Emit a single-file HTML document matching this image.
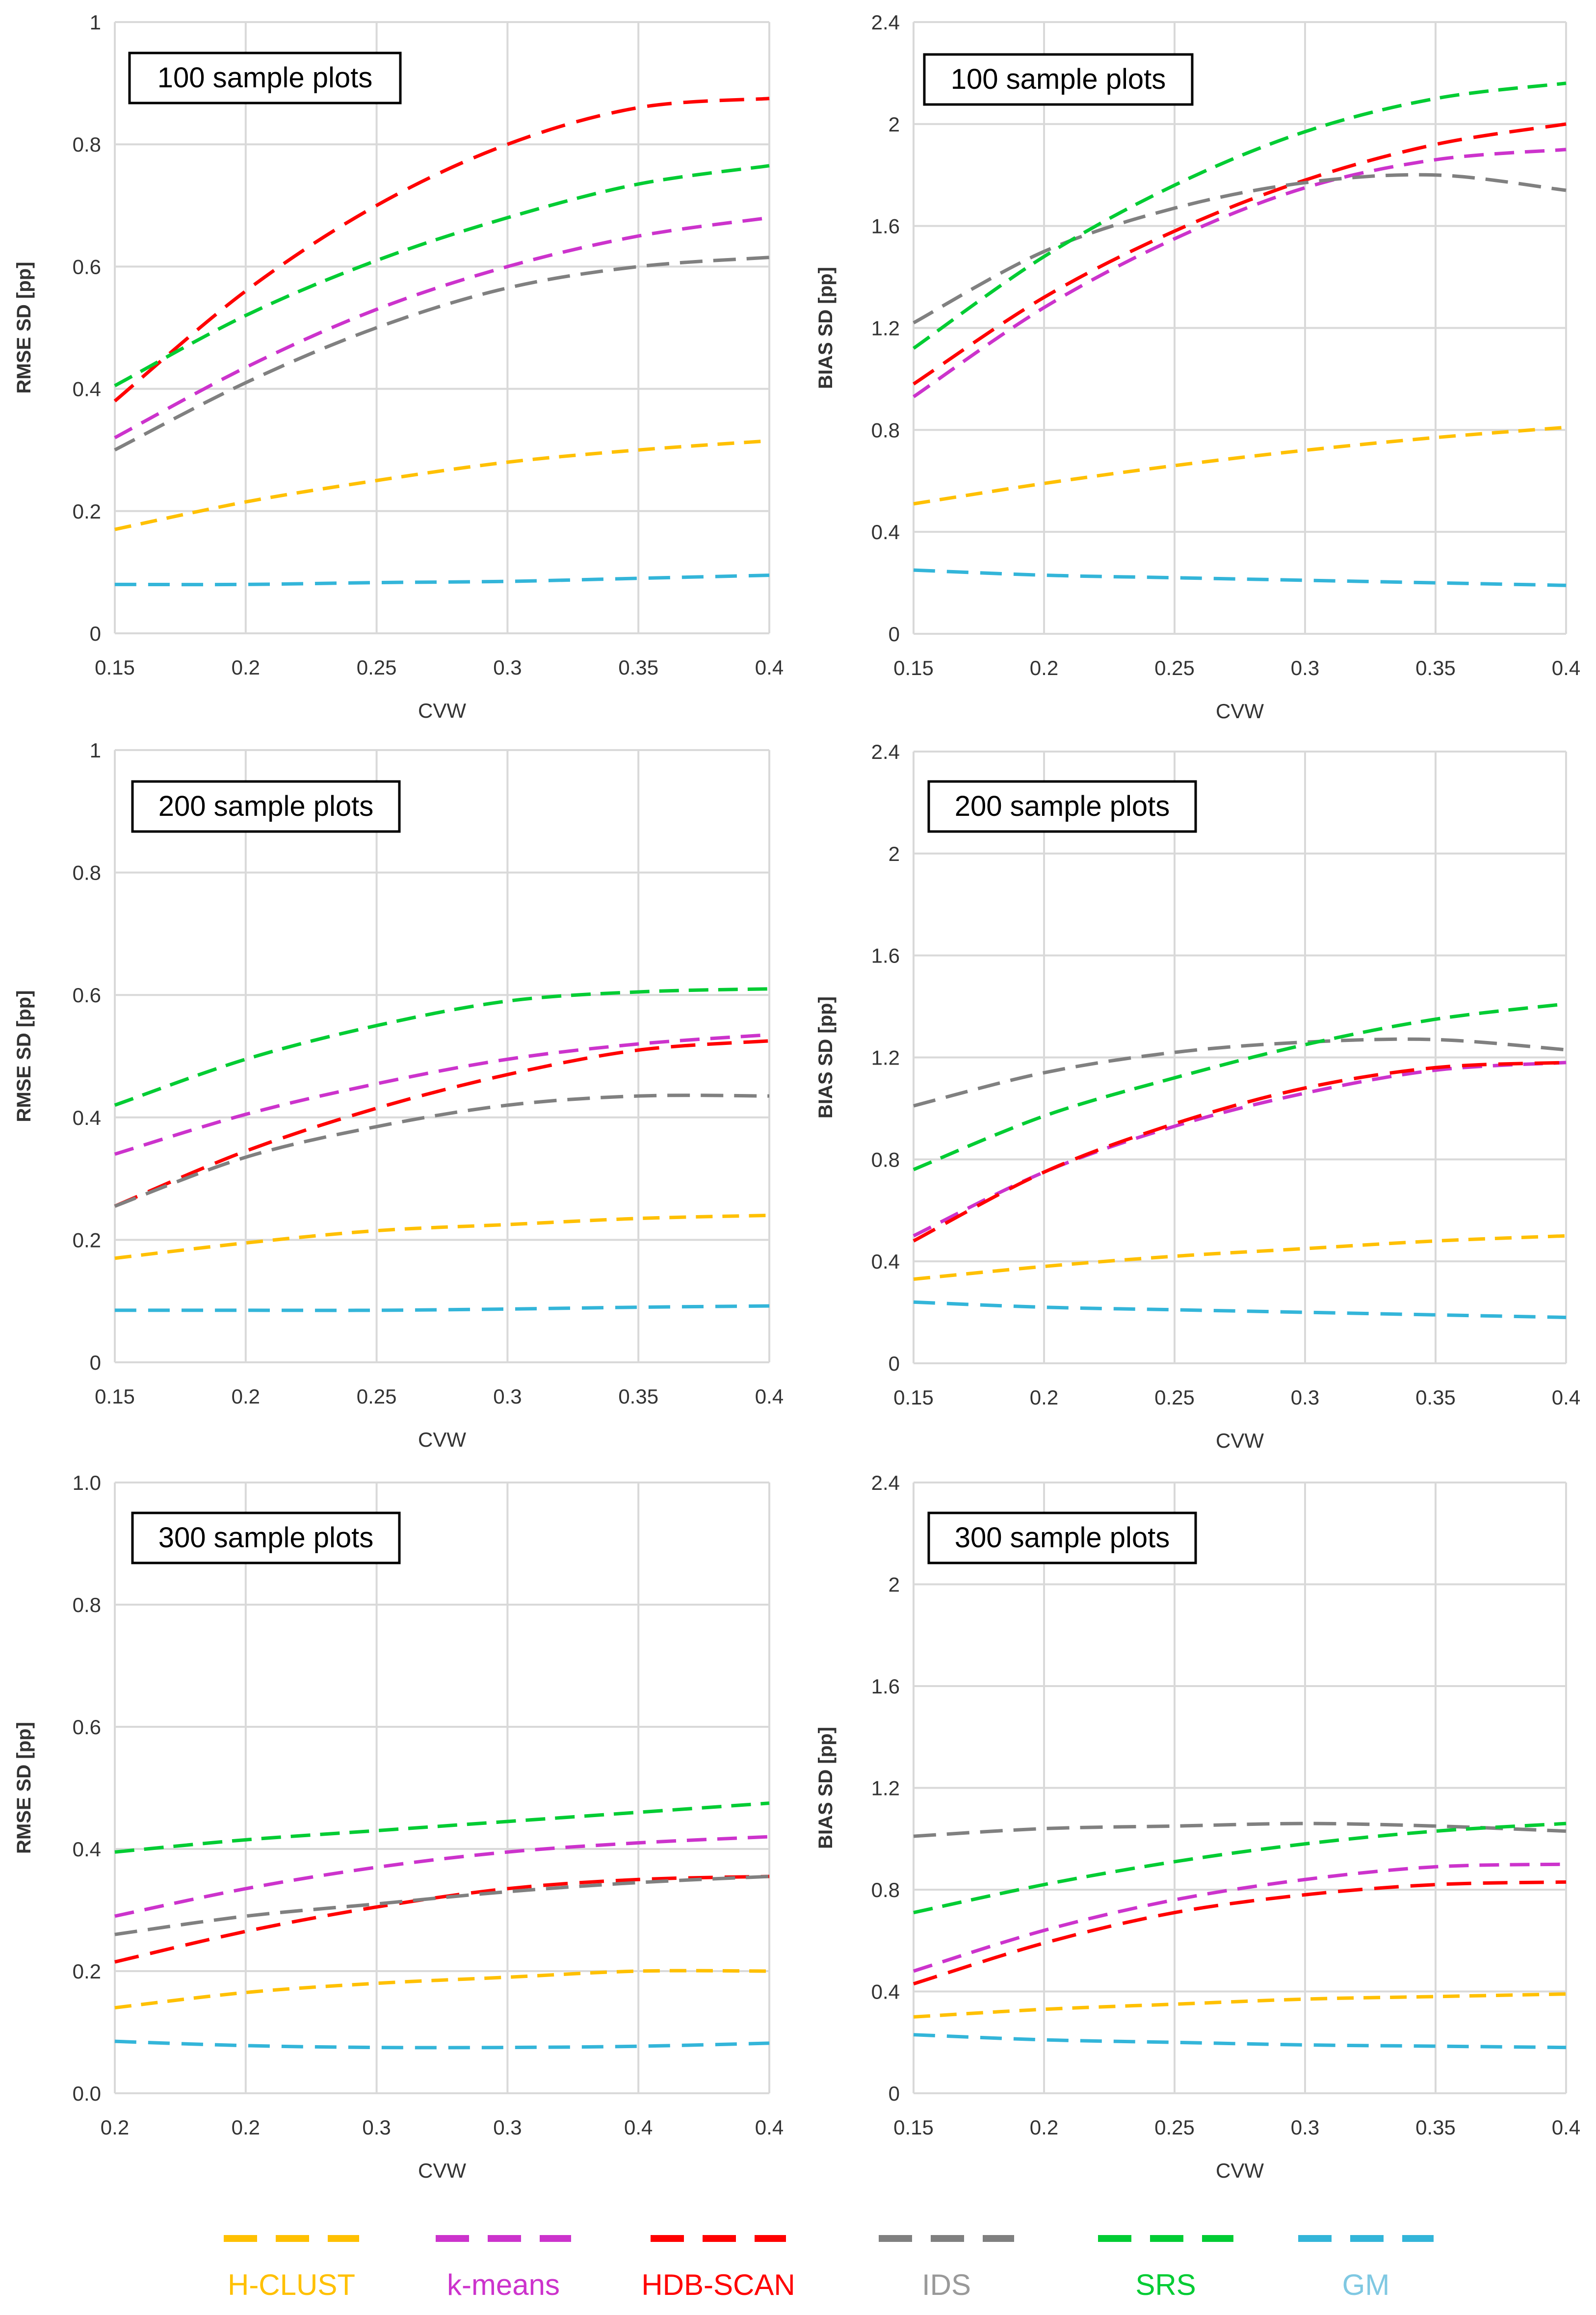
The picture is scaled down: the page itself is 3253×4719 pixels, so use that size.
<!DOCTYPE html>
<html><head><meta charset="utf-8">
<style>
html,body{margin:0;padding:0;background:#fff;}
svg{display:block;font-family:"Liberation Sans",sans-serif;}
</style></head>
<body>
<svg id="fig" width="3253" height="4719" viewBox="0 0 3253 4719" xmlns="http://www.w3.org/2000/svg"></svg>
<script>
const xCats = [0.15, 0.2, 0.25, 0.3, 0.35, 0.4];
const seriesNames = ["H-CLUST","k-means","HDB-SCAN","IDS","SRS","GM"];
// Panel A: RMSE SD, 100 sample plots
const a_hclust = [0.17,0.215,0.25,0.28,0.30,0.315];
const a_kmeans = [0.32,0.435,0.53,0.60,0.65,0.68];
const a_hdb    = [0.38,0.56,0.70,0.80,0.86,0.875];
const a_ids    = [0.30,0.41,0.50,0.565,0.60,0.615];
const a_srs    = [0.405,0.52,0.61,0.68,0.735,0.765];
const a_gm     = [0.08,0.08,0.083,0.085,0.09,0.095];
// Panel B: BIAS SD, 100
const b_hclust = [0.51,0.59,0.66,0.72,0.77,0.81];
const b_kmeans = [0.93,1.28,1.55,1.75,1.86,1.90];
const b_hdb    = [0.98,1.32,1.58,1.78,1.92,2.00];
const b_ids    = [1.22,1.50,1.67,1.77,1.80,1.74];
const b_srs    = [1.12,1.48,1.76,1.97,2.10,2.16];
const b_gm     = [0.25,0.23,0.22,0.21,0.20,0.19];
// Panel C: RMSE SD, 200
const c_hclust = [0.17,0.195,0.215,0.225,0.235,0.24];
const c_kmeans = [0.34,0.405,0.455,0.495,0.52,0.535];
const c_hdb    = [0.255,0.345,0.415,0.47,0.51,0.525];
const c_ids    = [0.255,0.335,0.385,0.42,0.435,0.435];
const c_srs    = [0.42,0.495,0.55,0.59,0.605,0.61];
const c_gm     = [0.085,0.085,0.085,0.087,0.09,0.092];
// Panel D: BIAS SD, 200
const d_hclust = [0.33,0.38,0.42,0.45,0.48,0.50];
const d_kmeans = [0.50,0.75,0.93,1.06,1.15,1.18];
const d_hdb    = [0.48,0.75,0.94,1.08,1.16,1.18];
const d_ids    = [1.01,1.14,1.22,1.26,1.27,1.23];
const d_srs    = [0.76,0.97,1.12,1.25,1.35,1.41];
const d_gm     = [0.24,0.22,0.21,0.20,0.19,0.18];
// Panel E: RMSE SD, 300
const e_hclust = [0.14,0.165,0.18,0.19,0.20,0.20];
const e_kmeans = [0.29,0.335,0.37,0.395,0.41,0.42];
const e_hdb    = [0.215,0.265,0.305,0.335,0.35,0.355];
const e_ids    = [0.26,0.29,0.31,0.33,0.345,0.355];
const e_srs    = [0.395,0.415,0.43,0.445,0.46,0.475];
const e_gm     = [0.085,0.078,0.075,0.075,0.077,0.082];
// Panel F: BIAS SD, 300
const f_hclust = [0.30,0.33,0.35,0.37,0.38,0.39];
const f_kmeans = [0.48,0.64,0.76,0.84,0.89,0.90];
const f_hdb    = [0.43,0.59,0.71,0.78,0.82,0.83];
const f_ids    = [1.01,1.04,1.05,1.06,1.05,1.03];
const f_srs    = [0.71,0.82,0.91,0.98,1.03,1.06];
const f_gm     = [0.23,0.21,0.20,0.19,0.185,0.18];
const xTickLabelsStd = ["0.15","0.2","0.25","0.3","0.35","0.4"];
const xTickLabelsE = ["0.2","0.2","0.3","0.3","0.4","0.4"];
const yTicksRmse = [0,0.2,0.4,0.6,0.8,1];
const yTickLabelsRmse = ["0","0.2","0.4","0.6","0.8","1"];
const yTickLabelsRmseE = ["0.0","0.2","0.4","0.6","0.8","1.0"];
const yTicksBias = [0,0.4,0.8,1.2,1.6,2,2.4];
const yTickLabelsBias = ["0","0.4","0.8","1.2","1.6","2","2.4"];

const NS="http://www.w3.org/2000/svg";
const svg=document.getElementById('fig');
function el(tag,attrs,parent){const e=document.createElementNS(NS,tag);for(const k in attrs)e.setAttribute(k,attrs[k]);(parent||svg).appendChild(e);return e;}
const colors=["#FFC000","#CC33CC","#FF0000","#808080","#00CC33","#33B5D9"];
const dashes=["34 20","40 22","50 24","46 22","40 20","44 24"];

function panel(id,box,yMax,yTicks,yLabels,xLabels,yTitle,title,data){
  const g=el('g',{});
  
  
  const X=v=>box.x0+(v-0.15)/0.25*(box.x1-box.x0);
  const Y=v=>box.y0-(v/yMax)*(box.y0-box.yt);
  yTicks.forEach((t,i)=>{
    const gl=el('line',{x1:box.x0,x2:box.x1,y1:Y(t),y2:Y(t),stroke:'#d9d9d9','stroke-width':4},g);
    
    const tl=el('text',{x:box.x0-28,y:Y(t)+15,'text-anchor':'end','font-size':42,fill:'#333'},g);
    tl.textContent=yLabels[i];
    
  });
  xCats.forEach((c,i)=>{
    const gl=el('line',{x1:X(c),x2:X(c),y1:box.yt,y2:box.y0,stroke:'#d9d9d9','stroke-width':4},g);
    
    const tl=el('text',{x:X(c),y:box.y0+84,'text-anchor':'middle','font-size':42,fill:'#333'},g);
    tl.textContent=xLabels[i];
    
  });
  const xt=el('text',{x:(box.x0+box.x1)/2,y:box.y0+172,'text-anchor':'middle','font-size':42,fill:'#333'},g);
  xt.textContent='CVW';
  
  const cy=(box.y0+box.yt)/2;
  const yt=el('text',{x:box.ytx,y:cy,'text-anchor':'middle','font-size':40,'font-weight':'bold',fill:'#333',transform:`rotate(-90 ${box.ytx} ${cy})`},g);
  yt.textContent=yTitle;
  
  data.forEach((arr,si)=>{
    const pts=xCats.map((c,i)=>[X(c),Y(arr[i])]);
    let d=`M${pts[0][0]},${pts[0][1]}`;
    for(let i=0;i<pts.length-1;i++){
      const p0=pts[Math.max(0,i-1)],p1=pts[i],p2=pts[i+1],p3=pts[Math.min(pts.length-1,i+2)];
      const c1=[p1[0]+(p2[0]-p0[0])/6,p1[1]+(p2[1]-p0[1])/6];
      const c2=[p2[0]-(p3[0]-p1[0])/6,p2[1]-(p3[1]-p1[1])/6];
      d+=` C${c1[0]},${c1[1]} ${c2[0]},${c2[1]} ${p2[0]},${p2[1]}`;
    }
    const p=el('path',{d:d,fill:'none',stroke:colors[si],'stroke-width':7,'stroke-dasharray':dashes[si]},g);
    
    
  });
  const r=el('rect',{x:box.bx,y:box.by,width:box.bw,height:102,fill:'#fff',stroke:'#000','stroke-width':5},g);
  
  const tt=el('text',{x:box.bx+box.bw/2,y:box.by+70,'text-anchor':'middle','font-size':58,fill:'#000'},g);
  tt.textContent=title;
  
}
const L={x0:234,x1:1568},R={x0:1862,x1:3192};
panel('panel-rmse-100',{...L,y0:1291,yt:45,ytx:62,bx:264,by:108,bw:552},1,yTicksRmse,yTickLabelsRmse,xTickLabelsStd,'RMSE SD [pp]','100 sample plots',[a_hclust,a_kmeans,a_hdb,a_ids,a_srs,a_gm]);
panel('panel-bias-100',{...R,y0:1292,yt:45,ytx:1696,bx:1884,by:111,bw:546},2.4,yTicksBias,yTickLabelsBias,xTickLabelsStd,'BIAS SD [pp]','100 sample plots',[b_hclust,b_kmeans,b_hdb,b_ids,b_srs,b_gm]);
panel('panel-rmse-200',{...L,y0:2777,yt:1529,ytx:62,bx:270,by:1593,bw:544},1,yTicksRmse,yTickLabelsRmse,xTickLabelsStd,'RMSE SD [pp]','200 sample plots',[c_hclust,c_kmeans,c_hdb,c_ids,c_srs,c_gm]);
panel('panel-bias-200',{...R,y0:2779,yt:1532,ytx:1696,bx:1893,by:1593,bw:544},2.4,yTicksBias,yTickLabelsBias,xTickLabelsStd,'BIAS SD [pp]','200 sample plots',[d_hclust,d_kmeans,d_hdb,d_ids,d_srs,d_gm]);
panel('panel-rmse-300',{...L,y0:4267,yt:3022,ytx:62,bx:270,by:3084,bw:544},1,yTicksRmse,yTickLabelsRmseE,xTickLabelsE,'RMSE SD [pp]','300 sample plots',[e_hclust,e_kmeans,e_hdb,e_ids,e_srs,e_gm]);
panel('panel-bias-300',{...R,y0:4267,yt:3022,ytx:1696,bx:1893,by:3084,bw:544},2.4,yTicksBias,yTickLabelsBias,xTickLabelsStd,'BIAS SD [pp]','300 sample plots',[f_hclust,f_kmeans,f_hdb,f_ids,f_srs,f_gm]);

// legend
const legCenters=[594,1026,1464,1929,2376,2784];
const legText=["#FFC000","#CC33CC","#FF0000","#999999","#00CC33","#7FC8E2"];
const lg=el('g',{});


seriesNames.forEach((n,i)=>{
  const cx=legCenters[i];
  const ln=el('line',{x1:cx-138,x2:cx+138,y1:4563,y2:4563,stroke:colors[i],'stroke-width':14,'stroke-dasharray':'68 38'},lg);
  
  
  const t=el('text',{x:cx,y:4678,'text-anchor':'middle','font-size':60,fill:legText[i]},lg);
  t.textContent=n;
  
  
});
</script>
</body></html>
